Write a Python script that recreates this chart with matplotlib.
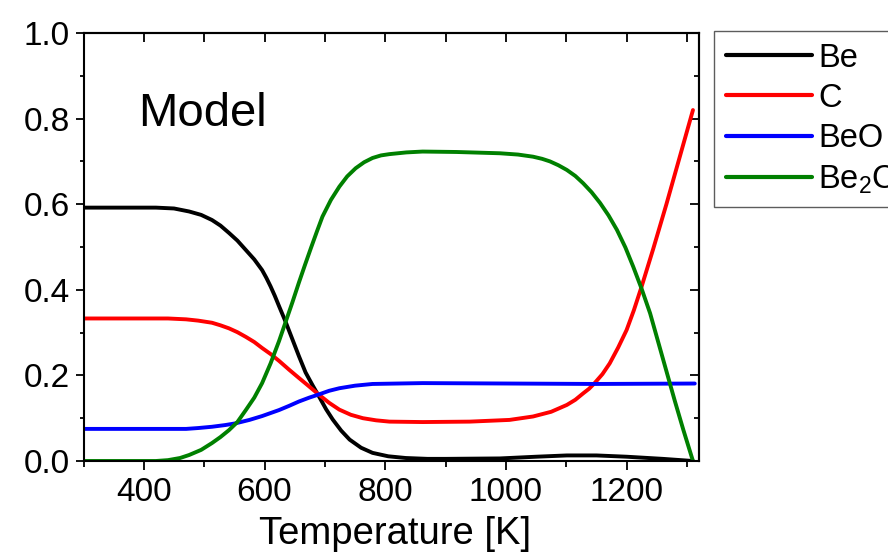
import numpy as np
import matplotlib
matplotlib.use("Agg")
import matplotlib.pyplot as plt
from matplotlib.ticker import MultipleLocator

plt.rcParams['font.family'] = ['Liberation Sans', 'DejaVu Sans']
plt.rcParams['mathtext.fontset'] = 'custom'
plt.rcParams['mathtext.rm'] = 'Liberation Sans'
plt.rcParams['mathtext.it'] = 'Liberation Sans:italic'

# Temperature [K] and mole fractions
T_be = [300, 420, 450, 475, 495, 513, 527, 541, 555, 569, 583, 596, 603, 610, 617, 624, 635, 646, 657, 668, 680,
        691, 702, 713, 727, 741, 760, 779, 805, 834, 870, 900, 990, 1050, 1101, 1150, 1200, 1260, 1310]
be   = [0.592, 0.592, 0.590, 0.583, 0.575, 0.563, 0.550, 0.533, 0.515, 0.493, 0.471, 0.446, 0.428, 0.408, 0.386,
        0.362, 0.325, 0.285, 0.245, 0.207, 0.176, 0.149, 0.121, 0.097, 0.071, 0.050, 0.031, 0.019, 0.011, 0.007,
        0.005, 0.005, 0.006, 0.010, 0.013, 0.013, 0.010, 0.005, 0.0]

T_c = [300, 440, 470, 490, 513, 527, 541, 555, 569, 583, 596, 610, 624, 641, 657, 669, 680, 691, 707, 724, 743,
       763, 785, 807, 862, 940, 1006, 1045, 1075, 1101, 1115, 1128, 1138, 1147, 1160, 1172, 1186, 1200, 1212,
       1225, 1244, 1266, 1288, 1310]
c   = [0.333, 0.333, 0.331, 0.328, 0.323, 0.317, 0.310, 0.301, 0.290, 0.278, 0.264, 0.250, 0.234, 0.213, 0.194,
       0.180, 0.167, 0.154, 0.136, 0.120, 0.108, 0.100, 0.095, 0.092, 0.091, 0.092, 0.096, 0.104, 0.115, 0.131,
       0.143, 0.158, 0.169, 0.182, 0.203, 0.228, 0.265, 0.306, 0.352, 0.408, 0.495, 0.600, 0.710, 0.82]

T_beo = [300, 470, 490, 513, 535, 552, 575, 596, 610, 624, 641, 657, 674, 691, 707, 724, 750, 779, 820, 862,
         1006, 1150, 1313]
beo   = [0.075, 0.075, 0.077, 0.080, 0.084, 0.088, 0.096, 0.105, 0.112, 0.119, 0.129, 0.139, 0.148, 0.156,
         0.164, 0.170, 0.176, 0.180, 0.181, 0.182, 0.181, 0.180, 0.181]

T_be2c = [300, 420, 440, 460, 475, 495, 513, 527, 541, 555, 569, 583, 596, 610, 624, 635, 646, 657, 667, 677,
          687, 696, 710, 724, 737, 751, 765, 779, 793, 807, 835, 862, 918, 990, 1020, 1045, 1060, 1073, 1087,
          1101, 1115, 1128, 1142, 1156, 1170, 1184, 1198, 1211, 1225, 1239, 1252, 1266, 1280, 1294, 1310]
be2c   = [0.0, 0.0, 0.002, 0.007, 0.014, 0.026, 0.042, 0.056, 0.072, 0.091, 0.119, 0.148, 0.182, 0.228, 0.280,
          0.325, 0.370, 0.417, 0.458, 0.498, 0.537, 0.571, 0.610, 0.641, 0.665, 0.684, 0.698, 0.708, 0.714,
          0.717, 0.721, 0.723, 0.722, 0.719, 0.716, 0.711, 0.706, 0.700, 0.691, 0.680, 0.666, 0.649, 0.628,
          0.603, 0.574, 0.540, 0.499, 0.454, 0.402, 0.345, 0.280, 0.210, 0.140, 0.073, 0.0]

labels = ['Be', 'C', 'BeO', 'Be$_2$C']
colors = ['#000000', '#ff0000', '#0000ff', '#008000']

fig = plt.figure(figsize=(8.88, 5.55), dpi=100)
ax = fig.add_axes([83.5/888, 1-461/555, (699-83.5)/888, (461-33)/555])

series = [(T_be, be), (T_c, c), (T_beo, beo), (T_be2c, be2c)]
handles = []
for (tx, vy), lab, col in zip(series, labels, colors):
    h, = ax.plot(tx, vy, color=col, lw=2.8, label=lab, solid_capstyle='round', solid_joinstyle='round')
    handles.append(h)

ax.set_xlim(300, 1320)
ax.set_ylim(0, 1.0)
ax.xaxis.set_minor_locator(MultipleLocator(100))
ax.yaxis.set_minor_locator(MultipleLocator(0.1))
ax.set_xticks([400, 600, 800, 1000, 1200])
ax.set_yticks([0, 0.2, 0.4, 0.6, 0.8, 1.0])
ax.set_yticklabels(['0.0', '0.2', '0.4', '0.6', '0.8', '1.0'])

for s in ax.spines.values():
    s.set_linewidth(1.5)

ax.tick_params(which='major', direction='out', length=6.5, width=1.3, labelsize=24, pad=5)
ax.tick_params(axis='y', which='major', length=6, pad=4)
ax.tick_params(axis='x', which='minor', direction='out', length=4.3, width=1.3)
ax.tick_params(axis='y', which='minor', direction='out', length=3, width=1.3)

# mirrored ticks on top and right, pointing inward
top = ax.secondary_xaxis('top')
top.xaxis.set_major_locator(MultipleLocator(200))
top.xaxis.set_minor_locator(MultipleLocator(100))
top.tick_params(which='both', direction='in', length=6.5, width=1.3, labeltop=False)
top.spines['top'].set_linewidth(1.5)
right = ax.secondary_yaxis('right')
right.yaxis.set_major_locator(MultipleLocator(0.2))
right.yaxis.set_minor_locator(MultipleLocator(0.1))
right.tick_params(which='major', direction='in', length=6.5, width=1.3, labelright=False)
right.tick_params(which='minor', direction='in', length=3.5, width=1.3, labelright=False)
right.spines['right'].set_linewidth(1.5)

ax.set_xlabel('Temperature [K]', fontsize=27.5)
ax.xaxis.set_label_coords(0.507, -0.128, transform=ax.transAxes)
ax.xaxis.label.set_va('top')
ax.text(390, 0.783, 'Model', fontsize=34, ha='left', va='baseline')

leg = fig.legend(handles=handles, loc='upper left',
                 bbox_to_anchor=(714/888, 1-31/555), fontsize=23.5,
                 frameon=True, fancybox=False, handlelength=2.65,
                 handletextpad=0.18, labelspacing=0.28, borderpad=0.36,
                 borderaxespad=0)
leg.get_frame().set_edgecolor('#333333')
leg.get_frame().set_linewidth(1.0)
for ln in leg.get_lines():
    ln.set_linewidth(3)

fig.savefig('out.png', dpi=100)
